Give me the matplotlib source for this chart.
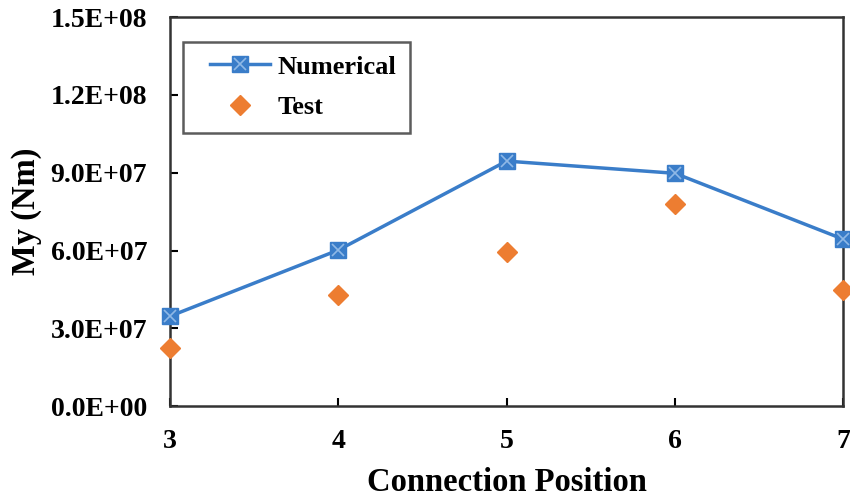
import numpy as np
from matplotlib import pyplot as plt
from matplotlib.lines import Line2D
from matplotlib.legend_handler import HandlerLine2D, HandlerTuple

positions = [3, 4, 5, 6, 7]
numerical = [3.47e7, 6.02e7, 9.45e7, 8.98e7, 6.44e7]
test = [2.24e7, 4.28e7, 5.94e7, 7.79e7, 4.47e7]
y_ticks = [0, 3e7, 6e7, 9e7, 1.2e8, 1.5e8]
y_labels = ['0.0E+00', '3.0E+07', '6.0E+07', '9.0E+07', '1.2E+08', '1.5E+08']


def main():
	plt.rcParams['font.family'] = ['Liberation Serif', 'DejaVu Serif']
	plt.rcParams['font.weight'] = 'bold'
	fig = plt.figure(figsize=(8.5, 5.04), dpi=100)
	ax = fig.add_axes([0.2, 0.194, 0.792, 0.772])

	num_line, = ax.plot(positions, numerical, '-', color='#3a7dc9', lw=2.5, marker='s',
		ms=11, mfc='#3a7dc9', mec='#3a7dc9', clip_on=False, zorder=3)
	num_x, = ax.plot(positions, numerical, 'x', color='#8fb8e6', ms=8, mew=1.2,
		clip_on=False, zorder=4)
	test_pts, = ax.plot(positions, test, 'D', color='#ed7d31', ms=10, ls='none',
		clip_on=False, zorder=3)

	ax.set_xlim(3, 7)
	ax.set_ylim(0, 1.5e8)
	ax.set_xticks(positions)
	ax.set_yticks(y_ticks)
	ax.set_yticklabels(y_labels)
	ax.tick_params(direction='in', labelsize=20, width=1.5, length=6, pad=16.5)
	for s in ax.spines.values():
		s.set_linewidth(1.8)
		s.set_color('#333333')
	ax.set_xlabel('Connection Position', fontsize=23.5, fontweight='bold', labelpad=9)
	ax.set_ylabel('My (Nm)', fontsize=23.5, fontweight='bold', labelpad=6)

	leg = ax.legend([(num_line, num_x), test_pts], ['Numerical', 'Test'],
		handler_map={Line2D: HandlerLine2D(xpad=0.53),
			tuple: HandlerTuple(ndivide=1, pad=0, xpad=0.53)},
		loc='upper left', bbox_to_anchor=(0.019, 0.936), fontsize=19,
		frameon=True, fancybox=False, borderaxespad=0, handlelength=2.8,
		handletextpad=0.3, labelspacing=0.65, borderpad=0.5)
	leg.get_frame().set_edgecolor('#333333')
	leg.get_frame().set_linewidth(1.8)

	fig.savefig('out.png', dpi=100)
	plt.close()


if __name__ == '__main__':
	main()
